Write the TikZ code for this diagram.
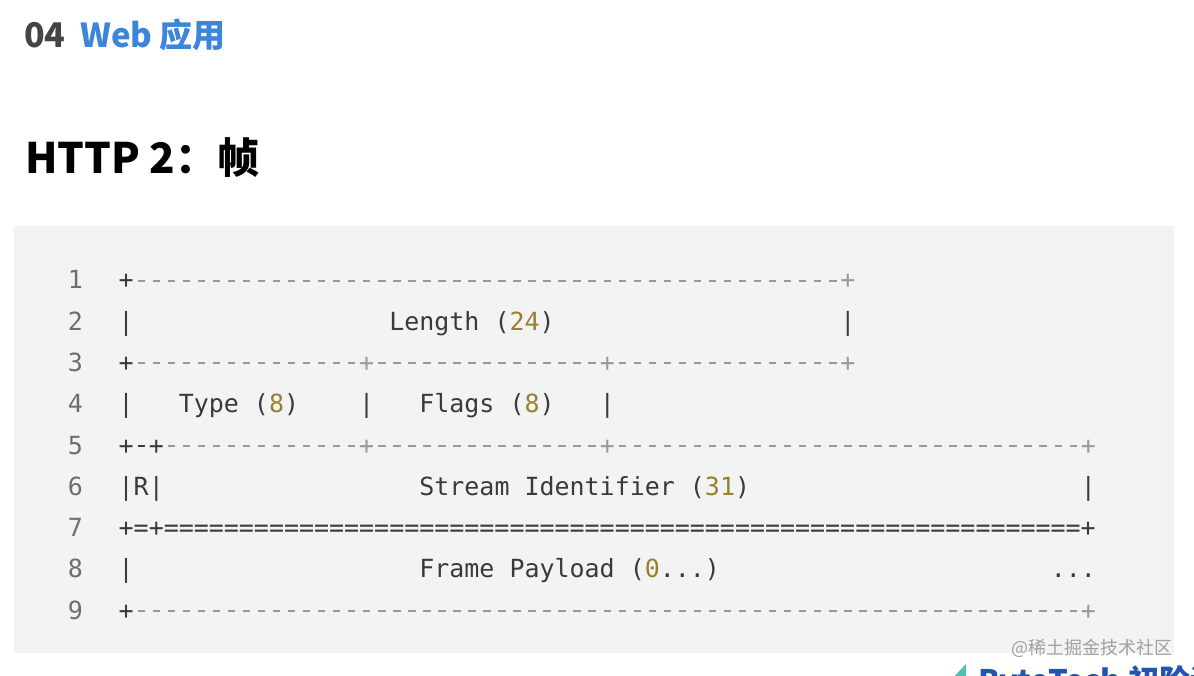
\documentclass[tikz,border=0pt]{standalone}
\usepackage{fontspec}
\setmonofont{DejaVu Sans Mono}
\newfontfamily\cjk{Noto Sans CJK SC}
\definecolor{dk}{HTML}{3A3A3A}
\definecolor{gr}{HTML}{999999}
\definecolor{numc}{HTML}{9A7F2C}
\definecolor{lnc}{HTML}{6E6E6E}
\definecolor{bgc}{HTML}{F2F4F4}
\definecolor{secgray}{HTML}{444444}
\definecolor{titleblue}{HTML}{3B86DA}
\definecolor{wmc}{HTML}{A0A0A0}
\definecolor{btteal}{HTML}{4FBFB0}
\definecolor{btblue}{HTML}{2355B0}
\ExplSyntaxOn
\cs_new:Npn \myrep #1#2 { \prg_replicate:nn {#1} {#2} }
\ExplSyntaxOff
\newlength\cw
\newcommand\dsh{\makebox[\cw]{\rule[7.4pt]{7.5pt}{1.8pt}}}
\newcommand\DSH[1]{\myrep{#1}{\dsh}}
\newcommand\EQS[1]{\myrep{#1}{=}}
\newcommand\SP[1]{\hspace*{#1\cw}}
\newcommand\NUM[1]{\textcolor{numc}{#1}}
\newcommand\GR[1]{\textcolor{gr}{#1}}
\tikzset{
  code/.style={inner sep=0pt, anchor=base west, text=dk, font=\ttfamily\fontsize{24.97}{30}\selectfont},
  lnum/.style={inner sep=0pt, anchor=base east, text=lnc, font=\ttfamily\fontsize{24.97}{30}\selectfont},
}
\begin{document}
\settowidth\cw{\ttfamily\fontsize{24.97}{30}\selectfont 0}%
\begin{tikzpicture}[x=1pt,y=-1pt]
\useasboundingbox (0,0) rectangle (1194,676);
\fill[white] (0,0) rectangle (1194,676);
\fill[bgc] (14,226) rectangle (1174,653);
% titles
\node[inner sep=0pt, anchor=base west, text=secgray, font=\cjk\bfseries\fontsize{34}{40}\selectfont] (sec) at (24,48) {04};
\node[inner sep=0pt, anchor=base west, text=titleblue, font=\cjk\bfseries\fontsize{33}{40}\selectfont] (sectitle) at (80,48) {Web 应用};
\node[inner sep=0pt, anchor=base west, text=black, font=\cjk\bfseries\fontsize{42}{48}\selectfont] (head) at (25,174) {HTTP 2：帧};
% line numbers
\foreach \i in {1,...,9} {
  \node[lnum] (N\i) at (83, {289+(\i-1)*41.25}) {\i};
}
% code lines
\node[code] (L1) at (118.5,289) {+\GR{\DSH{47}+}};
\node[code] (L2) at (118.5,330.25) {|\SP{17}Length (\NUM{24})\SP{19}|};
\node[code] (L3) at (118.5,371.5) {+\GR{\DSH{15}+\DSH{15}+\DSH{15}+}};
\node[code] (L4) at (118.5,412.75) {|\SP{3}Type (\NUM{8})\SP{4}|\SP{3}Flags (\NUM{8})\SP{3}|};
\node[code] (L5) at (118.5,454) {+\dsh+\GR{\DSH{13}+\DSH{15}+\DSH{31}+}};
\node[code] (L6) at (118.5,495.25) {|R|\SP{17}Stream Identifier (\NUM{31})\SP{22}|};
\node[code] (L7) at (118.5,536.5) {+=+\EQS{61}+};
\node[code] (L8) at (118.5,577.75) {|\SP{19}Frame Payload (\NUM{0}...)\SP{22}...};
\node[code] (L9) at (118.5,619) {+\GR{\DSH{63}+}};
% watermark
\node[inner sep=0pt, anchor=base east, text=wmc, font=\cjk\fontsize{18}{20}\selectfont] (wm) at (1173,654) {@稀土掘金技术社区};
% partially visible logo
\fill[btteal] (947,684) -- (966,664) -- (966,704) -- cycle;
\node[inner sep=0pt, anchor=base west, text=btblue, font=\cjk\bfseries\fontsize{31}{36}\selectfont] (bt) at (978,692) {ByteTech 初阶训};
\end{tikzpicture}
\end{document}
